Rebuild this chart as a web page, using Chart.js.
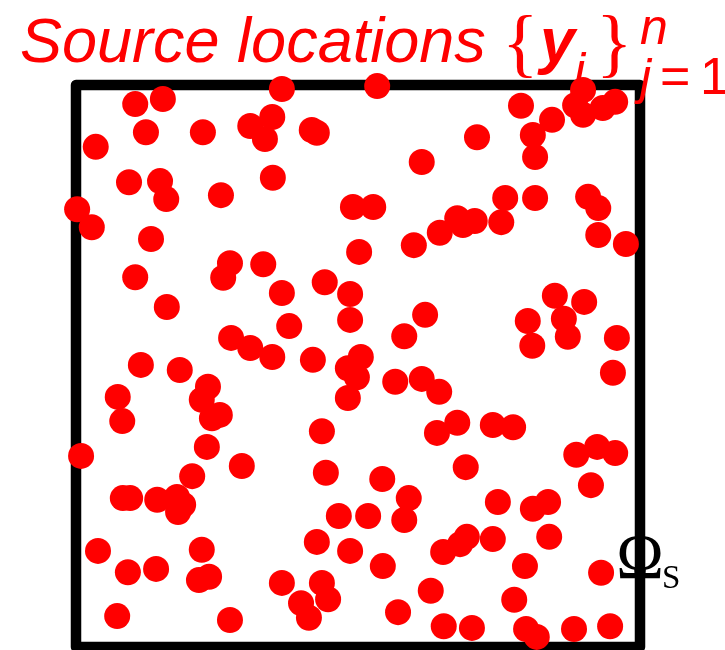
<!DOCTYPE html>
<html>
<head>
<meta charset="utf-8">
<script src="https://cdn.jsdelivr.net/npm/chart.js@4"></script>
<style>
  html, body { margin: 0; padding: 0; background: #fff; }
  canvas { display: block; }
</style>
</head>
<body>
<canvas id="sources" width="725" height="650"></canvas>
<script>
// source positions in the unit square
const srcX = [
  0.105, 0.154, 0.124, 0.225, 0.035, 0.309, 0.348, 0.335, 0.365, 0.418,
  0.427, 0.094, 0.149, 0.160, 0.257, 0.349, 0.002, 0.028, 0.133, 0.534,
  0.789, 0.844, 0.810, 0.814, 0.711, 0.613, 0.899, 0.885, 0.899, 0.934,
  0.956, 0.491, 0.527, 0.761, 0.814, 0.908, 0.926, 0.926, 0.975, 0.502,
  0.599, 0.645, 0.676, 0.686, 0.707, 0.754, 0.273, 0.261, 0.332, 0.105,
  0.161, 0.365, 0.441, 0.486, 0.486, 0.378, 0.275, 0.309, 0.348, 0.420,
  0.115, 0.184, 0.619, 0.582, 0.505, 0.482, 0.498, 0.482, 0.566, 0.613,
  0.644, 0.849, 0.901, 0.801, 0.865, 0.872, 0.809, 0.959, 0.952, 0.074,
  0.082, 0.234, 0.223, 0.255, 0.241, 0.232, 0.436, 0.009, 0.294, 0.443,
  0.640, 0.676, 0.739, 0.775, 0.887, 0.924, 0.956, 0.913, 0.691, 0.206,
  0.083, 0.096, 0.144, 0.179, 0.190, 0.181, 0.466, 0.518, 0.543, 0.590,
  0.582, 0.748, 0.810, 0.837, 0.839, 0.739, 0.693, 0.681, 0.651, 0.039,
  0.092, 0.142, 0.223, 0.218, 0.236, 0.073, 0.273, 0.427, 0.486, 0.365,
  0.436, 0.447, 0.399, 0.413, 0.544, 0.796, 0.931, 0.629, 0.777, 0.571,
  0.652, 0.702, 0.798, 0.817, 0.883, 0.947
];
const srcY = [
  0.966, 0.975, 0.916, 0.916, 0.890, 0.927, 0.943, 0.904, 0.993, 0.920,
  0.915, 0.827, 0.829, 0.797, 0.804, 0.835, 0.779, 0.747, 0.726, 0.998,
  0.963, 0.938, 0.911, 0.872, 0.907, 0.863, 0.991, 0.964, 0.947, 0.959,
  0.970, 0.783, 0.783, 0.799, 0.799, 0.801, 0.781, 0.733, 0.717, 0.703,
  0.715, 0.737, 0.763, 0.751, 0.758, 0.756, 0.683, 0.657, 0.681, 0.658,
  0.605, 0.630, 0.649, 0.628, 0.582, 0.571, 0.550, 0.532, 0.516, 0.511,
  0.502, 0.493, 0.591, 0.553, 0.516, 0.496, 0.480, 0.443, 0.472, 0.477,
  0.454, 0.625, 0.614, 0.580, 0.584, 0.552, 0.536, 0.550, 0.488, 0.445,
  0.402, 0.463, 0.440, 0.413, 0.407, 0.356, 0.384, 0.340, 0.322, 0.310,
  0.381, 0.399, 0.395, 0.391, 0.342, 0.356, 0.345, 0.288, 0.320, 0.304,
  0.265, 0.265, 0.262, 0.267, 0.253, 0.240, 0.233, 0.233, 0.299, 0.265,
  0.226, 0.258, 0.246, 0.258, 0.196, 0.192, 0.196, 0.183, 0.169, 0.171,
  0.133, 0.139, 0.173, 0.119, 0.125, 0.055, 0.048, 0.187, 0.171, 0.114,
  0.114, 0.085, 0.078, 0.052, 0.144, 0.144, 0.132, 0.100, 0.084, 0.062,
  0.037, 0.034, 0.032, 0.018, 0.032, 0.037
];

const points = srcX.map((x, i) => ({ x: x, y: srcY[i] }));

// thick square around the domain, drawn under the points
const domainBox = {
  id: 'domainBox',
  beforeDatasetsDraw(chart) {
    const { ctx, scales } = chart;
    const x0 = scales.x.getPixelForValue(0);
    const x1 = scales.x.getPixelForValue(1);
    const y0 = scales.y.getPixelForValue(1);
    const y1 = scales.y.getPixelForValue(0);
    ctx.save();
    ctx.strokeStyle = '#000';
    ctx.lineWidth = 10.5;
    ctx.lineJoin = 'round';
    ctx.strokeRect(x0, y0, x1 - x0, y1 - y0);
    ctx.restore();
  }
};

// heading with the set notation, and the domain name on the right edge
const labels = {
  id: 'labels',
  afterDraw(chart) {
    const { ctx, scales } = chart;
    ctx.save();
    ctx.textBaseline = 'alphabetic';
    ctx.fillStyle = '#ff0000';

    ctx.font = 'italic 63px "Liberation Sans", Arial, sans-serif';
    ctx.fillText('Source locations', 20, 62);

    ctx.font = '76px "Liberation Serif", serif';
    ctx.fillText('{', 502, 68);
    ctx.font = 'italic bold 63px "Liberation Sans", Arial, sans-serif';
    ctx.fillText('y', 540, 62);
    ctx.font = 'italic 50px "Liberation Sans", Arial, sans-serif';
    ctx.fillText('j', 574, 88);
    ctx.font = '76px "Liberation Serif", serif';
    ctx.fillText('}', 596, 68);

    ctx.font = 'italic 50px "Liberation Sans", Arial, sans-serif';
    ctx.fillText('n', 640, 44);
    ctx.fillText('j', 640, 94);
    ctx.font = '52px "Liberation Sans", Arial, sans-serif';
    ctx.fillText('=', 660, 94);
    ctx.fillText('1', 700, 94);

    ctx.fillStyle = '#000';
    const xr = scales.x.getPixelForValue(1);
    ctx.font = '64px "Liberation Serif", serif';
    ctx.textAlign = 'center';
    ctx.fillText('\u03A9', xr, 578);
    ctx.textAlign = 'left';
    ctx.font = '33px "Liberation Serif", serif';
    ctx.fillText('S', 662, 588);
    ctx.restore();
  }
};

new Chart(document.getElementById('sources'), {
  type: 'scatter',
  data: {
    datasets: [{
      data: points,
      backgroundColor: '#ff0000',
      borderWidth: 0,
      pointRadius: 13,
      clip: false
    }]
  },
  options: {
    responsive: false,
    animation: false,
    devicePixelRatio: 1,
    layout: {
      autoPadding: false,
      padding: { left: 76, right: 85, top: 85, bottom: 3 }
    },
    plugins: {
      legend: { display: false },
      tooltip: { enabled: false }
    },
    scales: {
      x: { type: 'linear', min: 0, max: 1, display: false },
      y: { type: 'linear', min: 0, max: 1, display: false }
    }
  },
  plugins: [domainBox, labels]
});
</script>
</body>
</html>
